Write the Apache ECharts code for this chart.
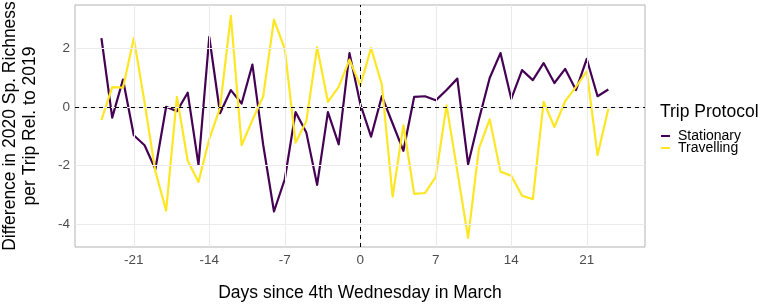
<!DOCTYPE html>
<html>
<head>
<meta charset="utf-8">
<script src="https://cdn.jsdelivr.net/npm/echarts@6/dist/echarts.min.js"></script>
<style>
  html, body { margin: 0; padding: 0; background: #fff; }
  #chart { width: 758px; height: 307px; }
</style>
</head>
<body>
<div id="chart"></div>
<script>
// days relative to the 4th Wednesday in March
const days = [
  -24, -23, -22, -21, -20, -19, -18, -17, -16, -15, -14, -13, -12, -11, -10, -9,
  -8, -7, -6, -5, -4, -3, -2, -1, 0, 1, 2, 3, 4, 5, 6, 7,
  8, 9, 10, 11, 12, 13, 14, 15, 16, 17, 18, 19, 20, 21, 22, 23
];

const stationary = [
  2.34, -0.37, 0.93, -0.97, -1.31, -2.13, 0.0, -0.15, 0.48, -1.98, 2.38, -0.22, 0.57, 0.11, 1.44, -1.3,
  -3.57, -2.47, -0.18, -0.88, -2.66, -0.18, -1.28, 1.83, 0.1, -1.02, 0.36, -0.57, -1.5, 0.34, 0.36, 0.22,
  0.57, 0.96, -1.96, -0.43, 0.98, 1.83, 0.27, 1.25, 0.91, 1.49, 0.81, 1.29, 0.57, 1.63, 0.36, 0.59
];

const travelling = [
  -0.45, 0.67, 0.65, 2.34, 0.15, -2.2, -3.54, 0.34, -1.84, -2.56, -1.1, -0.03, 3.1, -1.31, -0.45, 0.36,
  2.97, 1.97, -1.22, -0.49, 2.03, 0.17, 0.68, 1.61, 0.72, 2.0, 0.76, -3.06, -0.63, -2.97, -2.94, -2.39,
  0.05, -2.2, -4.47, -1.43, -0.43, -2.21, -2.35, -3.03, -3.15, 0.17, -0.69, 0.19, 0.68, 1.21, -1.65, -0.07
];

const xTicks = [-21, -14, -7, 0, 7, 14, 21];
const yTicks = [-4, -2, 0, 2];

const FONT = 'Liberation Sans, Arial, sans-serif';
const PURPLE = '#440154';
const YELLOW = '#FDE725';

const toPairs = (vals) => days.map((d, i) => [d, vals[i]]);

const chart = echarts.init(document.getElementById('chart'), null, { renderer: 'canvas' });

const options = {
  animation: false,
  backgroundColor: '#fff',
  textStyle: { fontFamily: FONT },
  grid: {
    left: 75, right: 113, top: 5, bottom: 59,
    show: true, borderColor: '#b3b3b3', borderWidth: 1, backgroundColor: 'transparent'
  },
  title: {
    text: 'Trip Protocol',
    left: 655, top: 98,
    textStyle: { fontFamily: FONT, fontSize: 17.5, fontWeight: 'normal', color: '#000' }
  },
  legend: {
    data: ['Stationary', 'Travelling'],
    orient: 'vertical',
    left: 656, top: 124,
    icon: 'rect',
    itemWidth: 9, itemHeight: 2,
    itemGap: -2,
    textStyle: { fontFamily: FONT, fontSize: 14, lineHeight: 13, color: '#000', padding: [0, 0, 0, 3] }
  },
  graphic: [
    {
      type: 'text',
      x: 20, y: 126,
      rotation: Math.PI / 2,
      style: {
        text: 'Difference in 2020 Sp. Richness\nper Trip Rel. to 2019',
        font: '17.5px ' + FONT,
        fill: '#000',
        align: 'center',
        verticalAlign: 'middle',
        lineHeight: 20
      }
    }
  ],
  xAxis: {
    type: 'value',
    min: -26.45, max: 26.4,
    name: 'Days since 4th Wednesday in March',
    nameLocation: 'middle',
    nameGap: 37,
    nameTextStyle: { fontFamily: FONT, fontSize: 17.5, color: '#000' },
    axisLine: { show: false },
    axisTick: { show: true, customValues: xTicks, length: 3, lineStyle: { color: '#b3b3b3' } },
    axisLabel: { customValues: xTicks, fontFamily: FONT, fontSize: 13.5, color: '#4d4d4d', margin: 6 },
    splitLine: { show: false }
  },
  yAxis: {
    type: 'value',
    min: -4.78, max: 3.47,
    axisLine: { show: false },
    axisTick: { show: true, customValues: yTicks, length: 3, lineStyle: { color: '#b3b3b3' } },
    axisLabel: { customValues: yTicks, fontFamily: FONT, fontSize: 13.5, color: '#4d4d4d', margin: 5 },
    splitLine: { show: false }
  },
  series: [
    {
      name: 'gridlines',
      type: 'line',
      data: [],
      z: 1,
      silent: true,
      markLine: {
        silent: true,
        symbol: 'none',
        label: { show: false },
        lineStyle: { color: '#ebebeb', width: 1, type: 'solid' },
        data: [
          ...xTicks.map(v => ({ xAxis: v })),
          ...yTicks.map(v => ({ yAxis: v }))
        ]
      }
    },
    {
      name: 'reference',
      type: 'line',
      data: [],
      z: 2,
      silent: true,
      markLine: {
        silent: true,
        symbol: 'none',
        label: { show: false },
        lineStyle: { color: '#000', width: 1, type: [4, 4] },
        data: [{ xAxis: 0 }, { yAxis: 0 }]
      }
    },
    {
      name: 'Stationary',
      type: 'line',
      data: toPairs(stationary),
      z: 3,
      symbol: 'none',
      lineStyle: { color: PURPLE, width: 2.2, join: 'round' },
      itemStyle: { color: PURPLE }
    },
    {
      name: 'Travelling',
      type: 'line',
      data: toPairs(travelling),
      z: 4,
      symbol: 'none',
      lineStyle: { color: YELLOW, width: 2.2, join: 'round' },
      itemStyle: { color: YELLOW }
    }
  ]
};

chart.setOption(options);
</script>
</body>
</html>
